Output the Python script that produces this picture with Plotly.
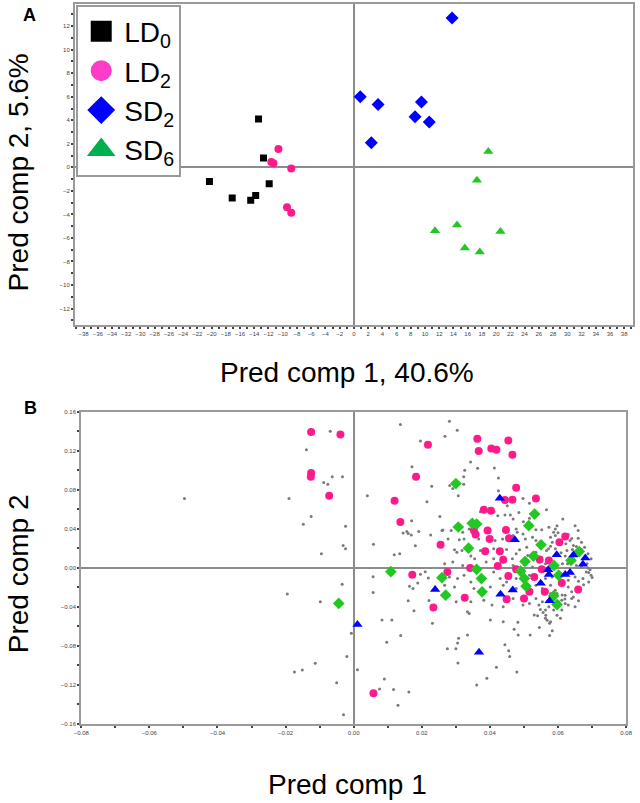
import plotly.graph_objects as go

FONT = "Liberation Sans, Arial, sans-serif"

# ---- panel A: predictive scores ----
ld0_x = [-13.4, -12.7, -20.3, -17.1, -14.5, -13.8, -11.9]
ld0_y = [4.1, 0.8, -1.2, -2.6, -2.8, -2.4, -1.4]
ld2_x = [-10.6, -11.6, -11.3, -8.8, -9.4, -8.8]
ld2_y = [1.55, 0.45, 0.35, -0.1, -3.4, -3.85]
sd2_x = [13.8, 0.9, 3.4, 9.5, 8.6, 10.6, 2.45]
sd2_y = [12.7, 6.0, 5.35, 5.55, 4.3, 3.85, 2.1]
sd6_x = [18.9, 17.3, 14.5, 11.4, 20.6, 15.6, 17.7]
sd6_y = [1.35, -1.1, -4.9, -5.4, -5.45, -6.85, -7.2]

group_names = ["LD<sub>0</sub>", "LD<sub>2</sub>", "SD<sub>2</sub>", "SD<sub>6</sub>"]

# ---- panel B: loadings (x, y) ----
all_vars = [
    (-0.0497, 0.0711), (-0.0190, 0.0711), (-0.0139, 0.1210), (-0.0069, 0.1400),
    (-0.0125, 0.0527), (-0.0148, 0.0445), (-0.0088, 0.0874), (-0.0076, 0.0857),
    (-0.0095, 0.0143), (-0.0195, -0.0269), (-0.0098, -0.0350), (-0.0113, -0.0980),
    (-0.0151, -0.1050), (-0.0174, -0.1070), (-0.0050, -0.1180), (-0.0030, -0.1510),
    (0.0137, 0.1469), (0.0281, 0.1503), (0.0304, 0.1411), (0.0268, 0.1350),
    (0.0196, 0.1302), (0.0343, 0.1085), (0.0326, 0.1000), (0.0364, 0.1020),
    (0.0413, 0.1024), (0.0171, 0.1037), (0.0323, 0.0935), (0.0425, 0.0922),
    (-0.0063, 0.0935), (-0.0033, 0.0935), (0.0229, 0.0837), (0.0282, 0.0843),
    (0.0040, 0.0738), (0.0215, 0.0677), (0.0253, 0.0527), (-0.0024, 0.0425),
    (0.0170, 0.0483), (0.0145, 0.0357), (0.0156, 0.0371), (0.0169, 0.0337),
    (0.0160, 0.0350), (0.0262, 0.0388),
    (0.0191, 0.0371), (0.0226, 0.0337), (0.0058, 0.0242), (-0.0031, 0.0228),
    (-0.0024, 0.0194), (0.0119, 0.0133), (0.0135, 0.0143), (0.0181, 0.0225),
    (0.0057, -0.0092), (0.0210, -0.0041), (0.0196, -0.0068), (0.0188, -0.0156),
    (0.0164, -0.0190), (0.0174, -0.0214), (0.0057, -0.0255), (-0.0034, -0.0170),
    (0.0160, -0.0340), (0.0221, -0.0336), (0.0177, -0.0442), (0.0083, -0.0537),
    (0.0112, -0.0537), (-0.0007, -0.0673), (0.0231, -0.0571), (0.0138, -0.0697),
    (0.0097, -0.0765), (0.0275, -0.0833), (0.0300, -0.0833), (0.0308, -0.0724),
    (0.0305, -0.0772), (0.0334, -0.0690), (-0.0020, -0.0911), (0.0011, -0.1047),
    (0.0306, -0.0979), (0.0391, -0.1136), (0.0361, -0.1203), (0.0419, -0.1023),
    (0.0479, -0.1071), (0.0455, -0.0853), (0.0458, -0.0911), (0.0444, -0.0792),
    (0.0090, -0.1142), (0.0076, -0.1244), (0.0117, -0.1251), (0.0162, -0.1275),
    (0.0130, -0.1411), (0.0219, -0.0105),
    (0.0483, -0.0690), (0.0518, -0.0690), (0.0575, -0.0697), (0.0583, -0.0646),
    (0.0545, -0.0615), (0.0471, -0.0632),
    (0.0323, 0.0857), (0.0291, 0.0813), (0.0307, 0.0738), (0.0425, 0.0789),
    (0.0497, 0.0711), (0.0516, 0.0663), (0.0451, 0.0636), (0.0372, 0.0575),
    (0.0412, 0.0575), (0.0423, 0.0534), (0.0444, 0.0541), (0.0460, 0.0541),
    (0.0485, 0.0568), (0.0468, 0.0500), (0.0516, 0.0507), (0.0498, 0.0473),
    (0.0259, 0.0381), (0.0286, 0.0381), (0.0320, 0.0364), (0.0339, 0.0398),
    (0.0477, 0.0398), (0.0480, 0.0364), (0.0497, 0.0347), (0.0535, 0.0391),
    (0.0552, 0.0391), (0.0573, 0.0415), (0.0587, 0.0364), (0.0597, 0.0432),
    (0.0614, 0.0500), (0.0650, 0.0432), (0.0659, 0.0381), (0.0277, 0.0296),
    (0.0310, 0.0286), (0.0324, 0.0296), (0.0367, 0.0296), (0.0415, 0.0279),
    (0.0437, 0.0296), (0.0468, 0.0330), (0.0504, 0.0296), (0.0525, 0.0313),
    (0.0535, 0.0279), (0.0578, 0.0313), (0.0592, 0.0330), (0.0583, 0.0262),
    (0.0623, 0.0245), (0.0635, 0.0279), (0.0645, 0.0228), (0.0659, 0.0303),
    (0.0669, 0.0262), (0.0626, 0.0177), (0.0642, 0.0187), (0.0654, 0.0218),
    (0.0296, 0.0184), (0.0303, 0.0160), (0.0318, 0.0177), (0.0344, 0.0119),
    (0.0355, 0.0092), (0.0372, 0.0177), (0.0411, 0.0194), (0.0449, 0.0187),
    (0.0487, 0.0184), (0.0477, 0.0143), (0.0508, 0.0211), (0.0511, 0.0126),
    (0.0535, 0.0160), (0.0566, 0.0177), (0.0592, 0.0194), (0.0609, 0.0153),
    (0.0621, 0.0119), (0.0669, 0.0187), (0.0678, 0.0211), (0.0688, 0.0143),
    (0.0697, 0.0092), (0.0267, 0.0041), (0.0291, 0.0058), (0.0320, 0.0024),
    (0.0389, 0.0058), (0.0411, 0.0092), (0.0466, 0.0092), (0.0468, 0.0024),
    (0.0501, 0.0031), (0.0525, 0.0007), (0.0544, 0.0058), (0.0563, 0.0041),
    (0.0613, 0.0041), (0.0628, 0.0041), (0.0654, 0.0024), (0.0669, 0.0007),
    (0.0688, -0.0003), (0.0697, -0.0078), (0.0683, -0.0044), (0.0281, -0.0095),
    (0.0305, -0.0112), (0.0324, -0.0078), (0.0344, -0.0146), (0.0411, -0.0044),
    (0.0430, -0.0112), (0.0449, -0.0146), (0.0477, -0.0112), (0.0516, -0.0078),
    (0.0563, -0.0112), (0.0583, -0.0095), (0.0611, -0.0146), (0.0630, -0.0129),
    (0.0650, -0.0095), (0.0673, -0.0112), (0.0690, -0.0146), (0.0267, -0.0180),
    (0.0296, -0.0197), (0.0353, -0.0214), (0.0401, -0.0197), (0.0439, -0.0180),
    (0.0477, -0.0214), (0.0535, -0.0180), (0.0578, -0.0180), (0.0592, -0.0231),
    (0.0630, -0.0197), (0.0640, -0.0248), (0.0621, -0.0282), (0.0597, -0.0265),
    (0.0301, -0.0350), (0.0344, -0.0350), (0.0382, -0.0333), (0.0406, -0.0384),
    (0.0439, -0.0401), (0.0468, -0.0316), (0.0497, -0.0384), (0.0516, -0.0367),
    (0.0535, -0.0316), (0.0544, -0.0384), (0.0554, -0.0350), (0.0563, -0.0435),
    (0.0573, -0.0401), (0.0602, -0.0350), (0.0611, -0.0333), (0.0621, -0.0367),
    (0.0640, -0.0316), (0.0630, -0.0384), (0.0334, -0.0452), (0.0339, -0.0469),
    (0.0401, -0.0537), (0.0439, -0.0554), (0.0482, -0.0561), (0.0530, -0.0486),
    (0.0540, -0.0493), (0.0563, -0.0520), (0.0578, -0.0554), (0.0587, -0.0435),
    (0.0611, -0.0435),
    (0.0566, 0.0595), (0.0592, 0.0398), (0.0578, 0.0220), (0.0572, 0.0195),
    (0.0554, -0.0214), (0.0568, -0.0240), (0.0578, -0.0265), (0.0612, -0.0280),
    (0.0620, -0.0320), (0.0645, -0.0300), (0.0650, -0.0400), (0.0660, -0.0340),
    (0.0548, -0.0430), (0.0556, -0.0460), (0.0564, -0.0487), (0.0568, -0.0540),
    (0.0575, -0.0570), (0.0597, -0.0487), (0.0607, -0.0520), (0.0690, -0.0050),
    (0.0694, -0.0020), (0.0685, 0.0040), (0.0700, -0.0100), (0.0675, -0.0175),
    (0.0660, -0.0140), (0.0640, 0.0300), (0.0630, 0.0340), (0.0600, 0.0360),
]

ld2_vars = [
    (-0.0125, 0.1394), (-0.0125, 0.0972), (-0.0126, 0.0935), (-0.0072, 0.0738),
    (-0.0039, 0.1367), (0.0218, 0.1262), (0.0363, 0.1323), (0.0367, 0.1197),
    (0.0404, 0.1224), (0.0419, 0.1211), (0.0454, 0.1306), (0.0466, 0.1160),
    (0.0183, 0.0935), (0.0477, 0.0820), (0.0120, 0.0687), (0.0137, 0.0469),
    (0.0255, 0.0235), (0.0172, -0.0071), (0.0275, -0.0044), (0.0234, -0.0408),
    (0.0058, -0.1290), (0.0535, 0.0711), (0.0444, 0.0694), (0.0466, 0.0697),
    (0.0382, 0.0595), (0.0403, 0.0585), (0.0353, 0.0381), (0.0358, 0.0340),
    (0.0393, 0.0381), (0.0447, 0.0388), (0.0399, 0.0296), (0.0456, 0.0303),
    (0.0621, 0.0320), (0.0604, 0.0262), (0.0386, 0.0170), (0.0429, 0.0170),
    (0.0439, 0.0082), (0.0423, 0.0017), (0.0342, -0.0003), (0.0477, -0.0017),
    (0.0454, -0.0085), (0.0546, 0.0085), (0.0573, 0.0075), (0.0552, -0.0017),
    (0.0530, -0.0095), (0.0611, -0.0156), (0.0659, -0.0224), (0.0516, -0.0248),
    (0.0561, -0.0248), (0.0500, -0.0316), (0.0449, -0.0323), (0.0326, -0.0309),
]

green_vars = [
    (0.0300, 0.0864), (0.0531, 0.0551), (0.0514, 0.0432), (0.0307, 0.0418),
    (0.0348, 0.0456), (0.0361, 0.0449), (0.0337, 0.0201), (0.0550, 0.0235),
    (0.0528, 0.0119), (0.0503, 0.0064), (0.0662, 0.0166), (0.0638, 0.0075),
    (0.0588, 0.0024), (0.0361, -0.0017), (0.0259, -0.0102), (0.0375, -0.0112),
    (0.0490, -0.0034), (0.0501, -0.0112), (0.0506, -0.0190), (0.0602, -0.0078),
    (0.0270, -0.0282), (0.0377, -0.0248), (0.0587, -0.0289), (0.0597, -0.0378),
    (0.0109, -0.0041), (-0.0044, -0.0367),
]

blue_vars = [
    (0.0429, 0.0714), (0.0473, 0.0286), (0.0239, -0.0224), (0.0431, -0.0272),
    (0.0467, -0.0228), (0.0549, -0.0160), (0.0571, -0.0020), (0.0573, -0.0070),
    (0.0575, -0.0340), (0.0596, 0.0133), (0.0621, -0.0070), (0.0635, -0.0050),
    (0.0645, 0.0130), (0.0673, 0.0035), (0.0680, 0.0100), (0.0368, -0.0867),
    (0.0011, -0.0582),
]

PINK = "#ff1a8c"
GREEN = "#22c822"
BLUE = "#0000ff"
GRAY_DOT = "#7a7a7a"

fig = go.Figure()

# panel A data
fig.add_trace(go.Scatter(x=ld0_x, y=ld0_y, mode="markers", showlegend=False,
                         marker=dict(symbol="square", size=7, color="black")))
fig.add_trace(go.Scatter(x=ld2_x, y=ld2_y, mode="markers", showlegend=False,
                         marker=dict(symbol="circle", size=8, color=PINK)))
fig.add_trace(go.Scatter(x=sd2_x, y=sd2_y, mode="markers", showlegend=False,
                         marker=dict(symbol="diamond", size=10, color=BLUE)))
fig.add_trace(go.Scatter(x=sd6_x, y=sd6_y, mode="markers", showlegend=False,
                         marker=dict(symbol="triangle-up", size=9, color=GREEN)))

# legend entries (no data, only symbols for the legend box)
legend_style = [("square", "black"), ("circle", "#ff3cc8"),
                ("diamond", BLUE), ("triangle-up", "#00b050")]
for name, (sym, col) in zip(group_names, legend_style):
    fig.add_trace(go.Scatter(x=[None], y=[None], mode="markers", name=name,
                             marker=dict(symbol=sym, size=16, color=col,
                                         line=dict(color=col, width=5))))

# panel B data
def unzip(pts):
    return [p[0] for p in pts], [p[1] for p in pts]

gx, gy = unzip(all_vars)
fig.add_trace(go.Scatter(x=gx, y=gy, mode="markers", showlegend=False,
                         xaxis="x2", yaxis="y2",
                         marker=dict(size=3, color=GRAY_DOT)))
px_, py_ = unzip(ld2_vars)
fig.add_trace(go.Scatter(x=px_, y=py_, mode="markers", showlegend=False,
                         xaxis="x2", yaxis="y2",
                         marker=dict(symbol="circle", size=8, color=PINK)))
ex, ey = unzip(green_vars)
fig.add_trace(go.Scatter(x=ex, y=ey, mode="markers", showlegend=False,
                         xaxis="x2", yaxis="y2",
                         marker=dict(symbol="diamond", size=9, color=GREEN)))
bx, by = unzip(blue_vars)
fig.add_trace(go.Scatter(x=bx, y=by, mode="markers", showlegend=False,
                         xaxis="x2", yaxis="y2",
                         marker=dict(symbol="triangle-up", size=9, color=BLUE)))

axis_common = dict(
    showgrid=False, showline=True, mirror=True, linecolor="#9a9a9a", linewidth=2,
    zeroline=True, zerolinecolor="#8c8c8c", zerolinewidth=1.5,
    ticks="outside", ticklen=2, tickwidth=1.5, tickcolor="#444",
    tickfont=dict(size=6, color="#444", family=FONT),
)
minor_ticks = dict(ticks="outside", ticklen=2, tickcolor="#444")

def label(text, x, y, size, angle=0):
    return dict(text=text, x=x, y=y, xref="paper", yref="paper",
                xanchor="center", yanchor="middle", showarrow=False,
                textangle=angle, font=dict(size=size, color="black"))

fig.update_layout(
    width=640, height=803,
    margin=dict(l=0, r=0, t=0, b=0),
    paper_bgcolor="white", plot_bgcolor="white",
    font=dict(family=FONT, color="black"),
    xaxis=dict(axis_common, domain=[0.107, 0.998], range=[-39.2, 39.2],
               tick0=0, dtick=2, anchor="y", minor=dict(minor_ticks, dtick=1)),
    yaxis=dict(axis_common, domain=[0.596, 0.999], range=[-13.4, 13.9],
               tick0=0, dtick=2, anchor="x", minor=dict(minor_ticks, dtick=1)),
    xaxis2=dict(axis_common, domain=[0.117, 0.9875], range=[-0.08, 0.08],
                tick0=0, dtick=0.02, tickformat=".2f", anchor="y2",
                minor=dict(minor_ticks, dtick=0.01)),
    yaxis2=dict(axis_common, domain=[0.0959, 0.487], range=[-0.16, 0.16],
                tick0=0, dtick=0.04, tickformat=".2f", anchor="x2",
                minor=dict(minor_ticks, dtick=0.02)),
    legend=dict(x=0.109, y=0.998, xanchor="left", yanchor="top",
                bgcolor="white", bordercolor="#9a9a9a", borderwidth=2,
                font=dict(size=28, family=FONT), itemwidth=36, tracegroupgap=0),
    annotations=[
        label("<b>A</b>", 0.034, 0.985, 18),
        label("<b>B</b>", 0.036, 0.492, 18),
        label("Pred comp 1, 40.6%", 0.541, 0.536, 28),
        label("Pred comp 2, 5.6%", 0.017, 0.787, 28, -90),
        label("Pred comp 1", 0.542, 0.02, 28),
        label("Pred comp 2", 0.017, 0.284, 28, -90),
    ],
)

fig.write_html("out.html", config={"displayModeBar": False},
               post_script="document.body.style.margin='0px';")
